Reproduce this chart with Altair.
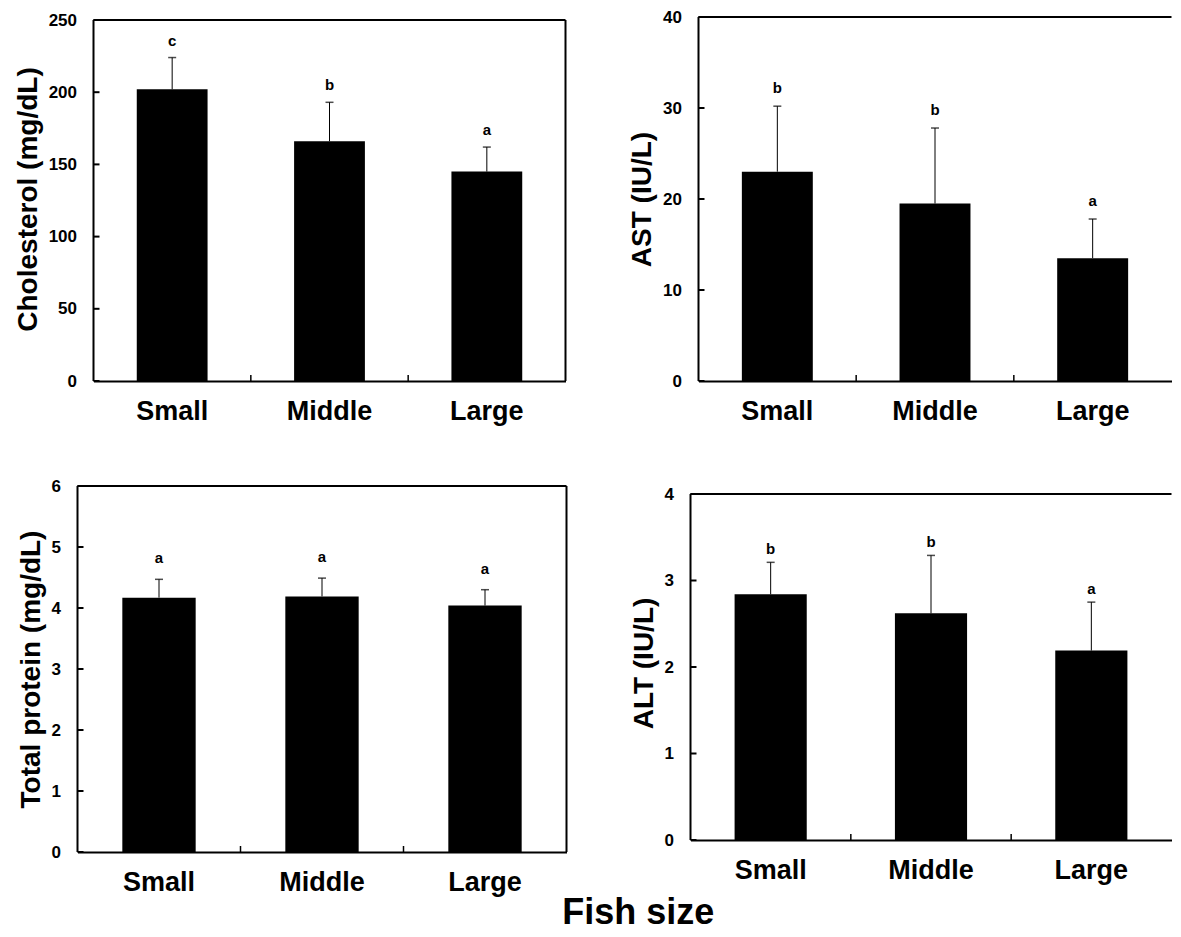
import altair as alt
import pandas as pd

cats = ["Small", "Middle", "Large"]

chol_mean = [202, 166, 145]
chol_sd = [22, 27, 17]
chol_sig = ["c", "b", "a"]
chol_ticks = [0, 50, 100, 150, 200, 250]

ast_mean = [23.0, 19.5, 13.5]
ast_sd = [7.2, 8.3, 4.3]
ast_sig = ["b", "b", "a"]
ast_ticks = [0, 10, 20, 30, 40]

tp_mean = [4.17, 4.19, 4.04]
tp_sd = [0.30, 0.30, 0.26]
tp_sig = ["a", "a", "a"]
tp_ticks = [0, 1, 2, 3, 4, 5, 6]

alt_mean = [2.84, 2.62, 2.19]
alt_sd = [0.37, 0.67, 0.56]
alt_sig = ["b", "b", "a"]
alt_ticks = [0, 1, 2, 3, 4]

SANS = "Liberation Sans, Arial, Helvetica, sans-serif"


def panel(title, mean, sd, sig, ticks, pw, ph, sig_dy, xoff=0, yoff=0, right_border=True):
    df = pd.DataFrame({
        "cat": cats,
        "mean": mean,
        "top": [m + s for m, s in zip(mean, sd)],
        "sig": sig,
    })
    ymax = ticks[-1]
    x0, x1 = xoff, xoff + pw
    vh = yoff + ph
    # extend the domain so that the frame top sits yoff pixels below the view top
    ydom_top = ymax * vh / ph
    if xoff:
        xscale = alt.Scale(domain=cats, paddingInner=0, paddingOuter=0, range=[x0, x1])
    else:
        xscale = alt.Scale(domain=cats, paddingInner=0, paddingOuter=0)
    xaxis = alt.Axis(title=None, labelAngle=0, labelFont=SANS, labelFontSize=27,
                     labelFontWeight="bold", labelColor="black", ticks=False, tickSize=0,
                     domainColor="black", domainWidth=2, labelPadding=17, grid=False)
    yscale = alt.Scale(domain=[0, ydom_top], nice=False, zero=True)
    yaxis = alt.Axis(title=title, values=ticks, format="d", labelFont=SANS,
                     labelFontSize=17, labelFontWeight="bold", labelColor="black",
                     ticks=False, tickSize=0, labelPadding=17, domain=False,
                     grid=False, titleFont=SANS, titleFontSize=28,
                     titleFontWeight="bold", titleColor="black", titlePadding=6,
                     offset=-xoff)

    def X(**kw):
        return alt.X("cat:N", scale=xscale, axis=xaxis, **kw)

    def Y(field):
        return alt.Y(field, scale=yscale, axis=yaxis)

    base = alt.Chart(df)
    bars = base.mark_bar(color="black", width=alt.RelativeBandSize(0.45)).encode(
        x=X(), y=Y("mean:Q"))
    err = base.mark_rule(color="black", strokeWidth=1).encode(
        x=X(), y=Y("mean:Q"), y2="top:Q")
    cap = base.mark_tick(color="black", size=8, thickness=1.5).encode(
        x=X(), y=Y("top:Q"))
    letters = base.mark_text(font=SANS, fontSize=15, fontWeight="bold",
                             baseline="alphabetic", dy=-sig_dy, color="black").encode(
        x=X(), y=Y("top:Q"), text="sig:N")
    yt = alt.Chart(pd.DataFrame({"v": ticks})).mark_rule(
        color="black", strokeWidth=2).encode(
        y=Y("v:Q"), x=alt.value(x0), x2=alt.value(x0 + 6))
    xt = alt.Chart(pd.DataFrame({"cat": cats[1:]})).mark_rule(
        color="black", strokeWidth=1.5).encode(
        x=X(bandPosition=0), y=alt.value(vh - 6), y2=alt.value(vh))
    frame_df = pd.DataFrame({"lo": [0], "hi": [ymax]})
    frame = alt.Chart(frame_df)
    topline = frame.mark_rule(color="black", strokeWidth=2).encode(
        x=alt.value(x0), x2=alt.value(x1), y=Y("hi:Q"))
    leftline = frame.mark_rule(color="black", strokeWidth=2).encode(
        x=alt.value(x0), y=Y("lo:Q"), y2="hi:Q")
    layers = [bars, err, cap, letters, yt, xt, topline, leftline]
    if right_border:
        rightline = frame.mark_rule(color="black", strokeWidth=2).encode(
            x=alt.value(x1), y=Y("lo:Q"), y2="hi:Q")
        layers.append(rightline)
    return alt.layer(*layers).properties(width=x1, height=vh)


p1 = panel("Cholesterol (mg/dL)", chol_mean, chol_sd, chol_sig, chol_ticks, 472, 361, 12,
           xoff=16, yoff=3)
p2 = panel("AST (IU/L)", ast_mean, ast_sd, ast_sig, ast_ticks, 473, 364, 13,
           right_border=False)
p3 = panel("Total protein (mg/dL)", tp_mean, tp_sd, tp_sig, tp_ticks, 489, 366, 16)
p4 = panel("ALT (IU/L)", alt_mean, alt_sd, alt_sig, alt_ticks, 481, 346, 8,
           yoff=8, right_border=False)

row1 = alt.hconcat(p1, p2, spacing=133, bounds="flush")
row2 = alt.hconcat(p3, p4, spacing=124, bounds="flush")

chart = alt.vconcat(
    row1, row2, spacing=53,
    title=alt.TitleParams("Fish size", orient="bottom", anchor="middle", fontSize=36,
                          font=SANS, fontWeight="bold", color="black", dx=45, offset=1),
).properties(
    padding={"left": 5.5, "top": 0, "right": 0, "bottom": 0}
).configure_view(stroke=None)

chart.save("out.html", embed_options={"renderer": "svg", "actions": False})
